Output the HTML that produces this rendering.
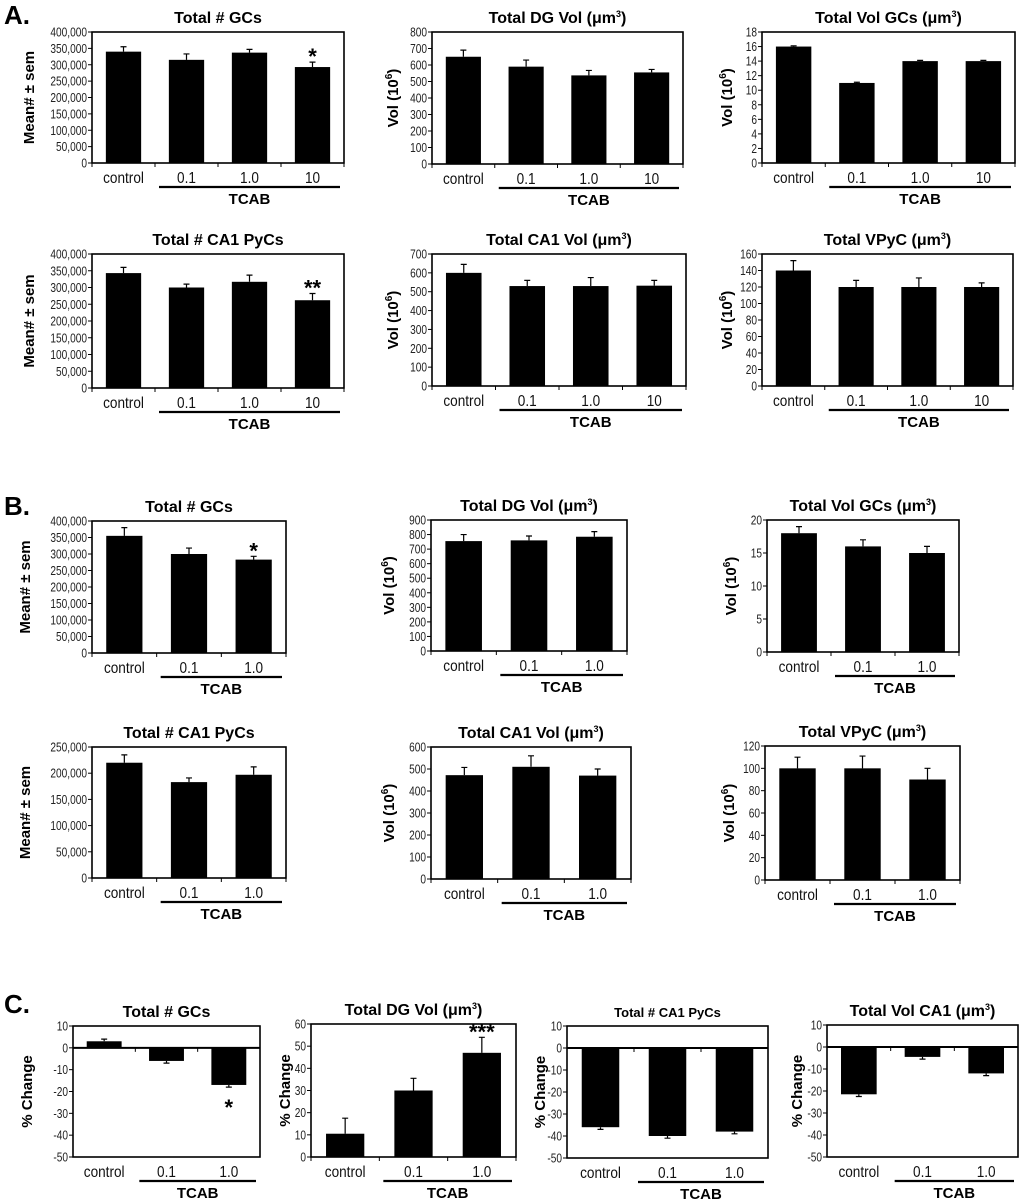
<!DOCTYPE html>
<html><head><meta charset="utf-8">
<style>
html,body{margin:0;padding:0;background:#fff;}
svg{display:block;font-family:"Liberation Sans",Arial,sans-serif;}
</style></head>
<body>
<svg id="fig" width="1024" height="1203" viewBox="0 0 1024 1203" xmlns="http://www.w3.org/2000/svg">
<text x="4" y="24" font-size="26" font-weight="bold">A.</text>
<text x="4" y="515" font-size="26" font-weight="bold">B.</text>
<text x="4" y="1013" font-size="26" font-weight="bold">C.</text>
</svg>
<script>
const catsA = ['control','0.1','1.0','10'];
const catsB = ['control','0.1','1.0'];

const aGcsVals = [340000, 315000, 337000, 293000];
const aGcsErrs = [15000, 18000, 10000, 15000];
const aDgVals = [650, 590, 537, 555];
const aDgErrs = [40, 40, 30, 18];
const aVolGcsVals = [16, 11, 14, 14];
const aVolGcsErrs = [0.1, 0.1, 0.1, 0.1];
const aCa1PycVals = [343000, 300000, 317000, 262000];
const aCa1PycErrs = [17000, 10000, 20000, 20000];
const aCa1VolVals = [600, 530, 530, 532];
const aCa1VolErrs = [45, 30, 45, 28];
const aVpycVals = [140, 120, 120, 120];
const aVpycErrs = [12, 8, 11, 5];

const bGcsVals = [355000, 300000, 283000];
const bGcsErrs = [25000, 18000, 10000];
const bDgVals = [755, 760, 785];
const bDgErrs = [45, 30, 35];
const bVolGcsVals = [18, 16, 15];
const bVolGcsErrs = [1, 1, 1];
const bCa1PycVals = [220000, 183000, 197000];
const bCa1PycErrs = [15000, 8000, 15000];
const bCa1VolVals = [472, 510, 470];
const bCa1VolErrs = [35, 50, 30];
const bVpycVals = [100, 100, 90];
const bVpycErrs = [10, 11, 10];

const cGcsVals = [3, -6, -17];
const cGcsErrs = [1, 1, 1];
const cDgVals = [10.5, 30, 47];
const cDgErrs = [7, 5.5, 7];
const cCa1PycVals = [-36, -40, -38];
const cCa1PycErrs = [1, 1, 1];
const cCa1VolVals = [-21.5, -4.5, -12];
const cCa1VolErrs = [1, 1, 1];

const svg = document.getElementById('fig');
const NS = 'http://www.w3.org/2000/svg';
function mk(tag, attrs, parent){
  const e = document.createElementNS(NS, tag);
  for (const k in attrs) e.setAttribute(k, attrs[k]);
  (parent||svg).appendChild(e);
  return e;
}
function fmt(v){ return v >= 1000 || v <= -1000 ? v.toLocaleString('en-US') : String(v); }

function chart(c){
  const g = mk('g', {});
  
  
  const n = c.cats.length;
  const slot = (c.x1 - c.x0) / n;
  const ys = v => c.y1 - (v - c.ymin) / (c.ymax - c.ymin) * (c.y1 - c.y0);
  const xs = i => c.x0 + slot * (i + 0.5);
  const t = mk('text', {x:(c.x0+c.x1)/2 + (c.tdx||0), y:c.y0-9, 'font-size':c.tfs||16, 'font-weight':'bold', 'text-anchor':'middle'}, g);
  
  
  t.innerHTML = c.title;
  const box = mk('rect', {x:c.x0, y:c.y0, width:c.x1-c.x0, height:c.y1-c.y0, fill:'none', stroke:'#000', 'stroke-width':1.6}, g);
  
  
  for (let v = c.ymin; v <= c.ymax + 1e-9; v += c.step){
    const y = ys(v);
    mk('line', {x1:c.x0-4, x2:c.x0, y1:y, y2:y, stroke:'#000', 'stroke-width':1}, g);
    const tl = mk('text', {x:0, y:0, 'font-size':13, 'text-anchor':'end', fill:'#222', transform:`translate(${c.x0-5},${y+4.5}) scale(0.78,1)`}, g);
    
    
    tl.textContent = fmt(v);
  }
  const yl = mk('text', {x:0, y:0, 'font-size':15, 'font-weight':'bold', 'text-anchor':'middle', transform:`translate(${c.ylx},${(c.y0+c.y1)/2}) rotate(-90)`}, g);
  
  
  yl.innerHTML = c.ylabel;
  const y0v = ys(Math.max(c.ymin, 0));
  if (c.ymin < 0){
    mk('line', {x1:c.x0, x2:c.x1, y1:y0v, y2:y0v, stroke:'#000', 'stroke-width':2}, g);
  }
  for (let i = 0; i <= n; i++){
    const x = c.x0 + slot*i;
    mk('line', {x1:x, x2:x, y1:y0v, y2:y0v+4, stroke:'#000', 'stroke-width':1}, g);
  }
  const bw = slot * 0.56;
  c.vals.forEach((v, i) => {
    const yv = ys(v);
    const top = Math.min(yv, y0v), h = Math.abs(yv - y0v);
    const b = mk('rect', {x:xs(i)-bw/2, y:top, width:bw, height:h, fill:'#000'}, g);
    
    
    const e = c.errs[i];
    const ye = v >= 0 ? ys(v + e) : ys(v - e);
    const eb = mk('path', {d:`M${xs(i)},${yv}V${ye}M${xs(i)-3},${ye}H${xs(i)+3}`, stroke:'#000', 'stroke-width':1.2, fill:'none'}, g);
    
    
    const cl = mk('text', {x:0, y:0, 'font-size':16, 'text-anchor':'middle', fill:'#111', transform:`translate(${xs(i)},${c.y1+20}) scale(0.85,1)`}, g);
    
    
    cl.textContent = c.cats[i];
  });
  if (c.star){
    const i = c.star.i, v = c.vals[i];
    const y = v >= 0 ? ys(v + c.errs[i]) - 4 : ys(v - c.errs[i]) + 22;
    const s = mk('text', {x:xs(i), y:y+6, 'font-size':22, 'font-weight':'bold', 'text-anchor':'middle'}, g);
    
    
    s.textContent = c.star.s;
  }
  const ln = mk('line', {x1:c.x0+slot+4, x2:c.x1-4, y1:c.y1+24, y2:c.y1+24, stroke:'#000', 'stroke-width':2.2}, g);
  
  
  const tc = mk('text', {x:(c.x0+slot+c.x1)/2, y:c.y1+41, 'font-size':15, 'font-weight':'bold', 'text-anchor':'middle'}, g);
  
  
  tc.textContent = 'TCAB';
}
const MU = '(<tspan>&#956;m</tspan><tspan font-size="9" dy="-6">3</tspan><tspan dy="6">)</tspan>';
const VOL = 'Vol (10<tspan font-size="10" dy="-6">6</tspan><tspan dy="6">)</tspan>';
const MEAN = 'Mean# ± sem';

chart({name:'a-total-gcs', title:'Total # GCs', ylabel:MEAN, ylx:34, x0:92, x1:344, y0:32, y1:163, ymin:0, ymax:400000, step:50000, cats:catsA, vals:aGcsVals, errs:aGcsErrs, star:{i:3,s:'*'}});
chart({name:'a-total-dg-vol', title:'Total DG Vol '+MU, ylabel:VOL, ylx:398, x0:432, x1:683, y0:32, y1:164, ymin:0, ymax:800, step:100, cats:catsA, vals:aDgVals, errs:aDgErrs});
chart({name:'a-total-vol-gcs', title:'Total Vol GCs '+MU, ylabel:VOL, ylx:732, x0:762, x1:1015, y0:32, y1:163, ymin:0, ymax:18, step:2, cats:catsA, vals:aVolGcsVals, errs:aVolGcsErrs});
chart({name:'a-total-ca1-pycs', title:'Total # CA1 PyCs', ylabel:MEAN, ylx:34, x0:92, x1:344, y0:254, y1:388, ymin:0, ymax:400000, step:50000, cats:catsA, vals:aCa1PycVals, errs:aCa1PycErrs, star:{i:3,s:'**'}});
chart({name:'a-total-ca1-vol', title:'Total CA1 Vol '+MU, ylabel:VOL, ylx:398, x0:432, x1:686, y0:254, y1:386, ymin:0, ymax:700, step:100, cats:catsA, vals:aCa1VolVals, errs:aCa1VolErrs});
chart({name:'a-total-vpyc', title:'Total VPyC '+MU, ylabel:VOL, ylx:732, x0:762, x1:1013, y0:254, y1:386, ymin:0, ymax:160, step:20, cats:catsA, vals:aVpycVals, errs:aVpycErrs});

chart({name:'b-total-gcs', title:'Total # GCs', ylabel:MEAN, ylx:30, x0:92, x1:286, y0:521, y1:653, ymin:0, ymax:400000, step:50000, cats:catsB, vals:bGcsVals, errs:bGcsErrs, star:{i:2,s:'*'}});
chart({name:'b-total-dg-vol', title:'Total DG Vol '+MU, ylabel:VOL, ylx:394, x0:431, x1:627, y0:520, y1:651, ymin:0, ymax:900, step:100, cats:catsB, vals:bDgVals, errs:bDgErrs});
chart({name:'b-total-vol-gcs', title:'Total Vol GCs '+MU, ylabel:VOL, ylx:736, x0:767, x1:959, y0:520, y1:652, ymin:0, ymax:20, step:5, cats:catsB, vals:bVolGcsVals, errs:bVolGcsErrs});
chart({name:'b-total-ca1-pycs', title:'Total # CA1 PyCs', ylabel:MEAN, ylx:30, x0:92, x1:286, y0:747, y1:878, ymin:0, ymax:250000, step:50000, cats:catsB, vals:bCa1PycVals, errs:bCa1PycErrs});
chart({name:'b-total-ca1-vol', title:'Total CA1 Vol '+MU, ylabel:VOL, ylx:394, x0:431, x1:631, y0:747, y1:879, ymin:0, ymax:600, step:100, cats:catsB, vals:bCa1VolVals, errs:bCa1VolErrs});
chart({name:'b-total-vpyc', title:'Total VPyC '+MU, ylabel:VOL, ylx:734, x0:765, x1:960, y0:746, y1:880, ymin:0, ymax:120, step:20, cats:catsB, vals:bVpycVals, errs:bVpycErrs});

const PC = '% Change';
chart({name:'c-total-gcs', title:'Total # GCs', ylabel:PC, ylx:32, x0:73, x1:260, y0:1026, y1:1157, ymin:-50, ymax:10, step:10, cats:catsB, vals:cGcsVals, errs:cGcsErrs, star:{i:2,s:'*'}});
chart({name:'c-total-dg-vol', title:'Total DG Vol '+MU, ylabel:PC, ylx:290, x0:311, x1:516, y0:1024, y1:1157, ymin:0, ymax:60, step:10, cats:catsB, vals:cDgVals, errs:cDgErrs, star:{i:2,s:'***'}});
chart({name:'c-total-ca1-pycs', title:'Total # CA1 PyCs', tfs:13, ylabel:PC, ylx:545, x0:567, x1:768, y0:1026, y1:1158, ymin:-50, ymax:10, step:10, cats:catsB, vals:cCa1PycVals, errs:cCa1PycErrs});
chart({name:'c-total-vol-ca1', title:'Total Vol CA1 '+MU, ylabel:PC, ylx:802, x0:827, x1:1018, y0:1025, y1:1157, ymin:-50, ymax:10, step:10, cats:catsB, vals:cCa1VolVals, errs:cCa1VolErrs});
</script>
</body></html>
